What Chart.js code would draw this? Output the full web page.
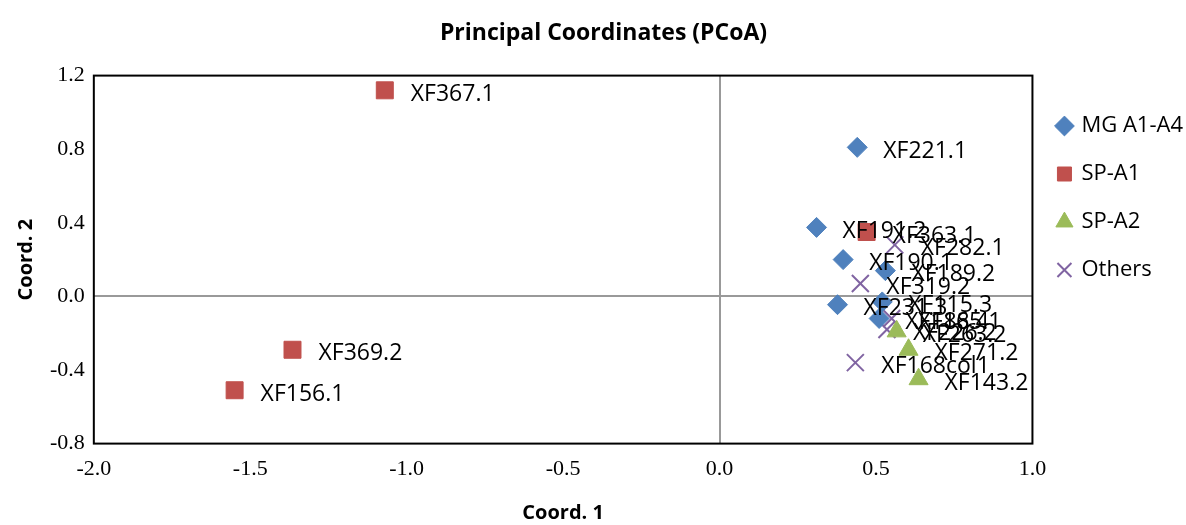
<!DOCTYPE html>
<html>
<head>
<meta charset="utf-8">
<script src="https://cdn.jsdelivr.net/npm/chart.js@4/dist/chart.umd.min.js"></script>
<style>
  html, body { margin: 0; padding: 0; background: #fff; }
  #wrap { width: 1186px; height: 525px; position: relative; }
</style>
</head>
<body>
<div id="wrap"><canvas id="pcoa"></canvas></div>
<script>
// values (Coord. 1, Coord. 2)
const mgLabels = ["XF221.1", "XF191.2", "XF190.1", "XF189.2", "XF231.3", "XF115.3", "XF188.4"];
const mgX = [0.44, 0.31, 0.395, 0.53, 0.377, 0.52, 0.51];
const mgY = [0.81, 0.375, 0.20, 0.14, -0.045, -0.03, -0.12];

const sp1Labels = ["XF367.1", "XF369.2", "XF156.1", "XF363.1"];
const sp1X = [-1.07, -1.365, -1.55, 0.47];
const sp1Y = [1.12, -0.29, -0.51, 0.35];

const sp2Labels = ["XF263.2", "XF271.2", "XF143.2"];
const sp2X = [0.566, 0.604, 0.636];
const sp2Y = [-0.19, -0.29, -0.45];

const otherLabels = ["XF282.1", "XF319.2", "XF165.1", "XF226.2", "XF168col1"];
const otherX = [0.56, 0.45, 0.55, 0.535, 0.434];
const otherY = [0.28, 0.07, -0.12, -0.18, -0.36];

const xTicks = [-2.0, -1.5, -1.0, -0.5, 0.0, 0.5, 1.0];
const yTicks = [-0.8, -0.4, 0.0, 0.4, 0.8, 1.2];

function toPoints(xs, ys, labels) {
    return xs.map((x, i) => ({ x: x, y: ys[i], name: labels[i] }));
}

// frame around plot area
const frame = {
    id: "frame",
    afterDraw(chart) {
        const a = chart.chartArea;
        const c = chart.ctx;
        c.save();
        c.strokeStyle = "#000";
        c.lineWidth = 2;
        c.strokeRect(a.left, a.top, a.right - a.left, a.bottom - a.top);
        c.restore();
    }
};

// sample names next to each marker
const pointNames = {
    id: "pointNames",
    afterDatasetsDraw(chart) {
        const c = chart.ctx;
        c.save();
        c.font = "23px 'Open Sans'";
        c.fillStyle = "#000";
        c.textBaseline = "middle";
        c.textAlign = "left";
        chart.data.datasets.forEach((ds, i) => {
            chart.getDatasetMeta(i).data.forEach((el, j) => {
                c.fillText(ds.data[j].name, el.x + 26, el.y + 4);
            });
        });
        c.restore();
    }
};

const ctx = document.getElementById("pcoa").getContext("2d");
new Chart(ctx, {
    type: "scatter",
    data: {
        datasets: [{
            label: "MG A1-A4",
            data: toPoints(mgX, mgY, mgLabels),
            pointStyle: "rectRot",
            pointRadius: 10,
            backgroundColor: "#4F81BD",
            borderColor: "#4F81BD",
            borderWidth: 1
        }, {
            label: "SP-A1",
            data: toPoints(sp1X, sp1Y, sp1Labels),
            pointStyle: "rect",
            pointRadius: 12,
            backgroundColor: "#C0504D",
            borderColor: "#C0504D",
            borderWidth: 1
        }, {
            label: "SP-A2",
            data: toPoints(sp2X, sp2Y, sp2Labels),
            pointStyle: "triangle",
            pointRadius: 11,
            backgroundColor: "#9BBB59",
            borderColor: "#9BBB59",
            borderWidth: 1
        }, {
            label: "Others",
            data: toPoints(otherX, otherY, otherLabels),
            pointStyle: "crossRot",
            pointRadius: 12,
            backgroundColor: "#8064A2",
            borderColor: "#8064A2",
            borderWidth: 2
        }]
    },
    options: {
        responsive: true,
        maintainAspectRatio: false,
        animation: false,
        layout: {
            padding: { left: 14, right: -7, top: 10, bottom: 0 }
        },
        plugins: {
            title: {
                display: true,
                text: "Principal Coordinates (PCoA)",
                color: "#000",
                font: { family: "'Open Sans'", size: 23, weight: "bold" },
                padding: { top: 10, bottom: 28 }
            },
            legend: {
                position: "right",
                align: "start",
                title: {
                    display: true,
                    text: "",
                    font: { size: 10 },
                    padding: { top: 0, bottom: 67 }
                },
                labels: {
                    usePointStyle: true,
                    boxWidth: 12,
                    boxHeight: 14,
                    padding: 26,
                    color: "#000",
                    font: { family: "'Open Sans'", size: 22 }
                }
            },
            tooltip: { enabled: false }
        },
        scales: {
            x: {
                type: "linear",
                min: -2,
                max: 1,
                afterBuildTicks: axis => { axis.ticks = xTicks.map(v => ({ value: v })); },
                grid: {
                    drawTicks: false,
                    color: c => (c.tick && c.tick.value === 0 ? "#999" : "rgba(0,0,0,0)"),
                    lineWidth: 2
                },
                border: { display: false },
                ticks: {
                    padding: 12,
                    color: "#000",
                    font: { family: "'Liberation Serif'", size: 22 },
                    callback: v => v.toFixed(1)
                },
                title: {
                    display: true,
                    text: "Coord. 1",
                    color: "#000",
                    font: { family: "'Open Sans'", size: 20, weight: "bold" },
                    padding: { top: 7, bottom: 0 }
                }
            },
            y: {
                type: "linear",
                min: -0.8,
                max: 1.2,
                afterBuildTicks: axis => { axis.ticks = yTicks.map(v => ({ value: v })); },
                grid: {
                    drawTicks: false,
                    color: c => (c.tick && Math.abs(c.tick.value) < 1e-9 ? "#999" : "rgba(0,0,0,0)"),
                    lineWidth: 2
                },
                border: { display: false },
                ticks: {
                    padding: 9,
                    color: "#000",
                    font: { family: "'Liberation Serif'", size: 22 },
                    callback: v => v.toFixed(1)
                },
                title: {
                    display: true,
                    text: "Coord. 2",
                    color: "#000",
                    font: { family: "'Open Sans'", size: 20, weight: "bold" },
                    padding: { top: 0, bottom: 3 }
                }
            }
        }
    },
    plugins: [frame, pointNames]
});
</script>
</body>
</html>
